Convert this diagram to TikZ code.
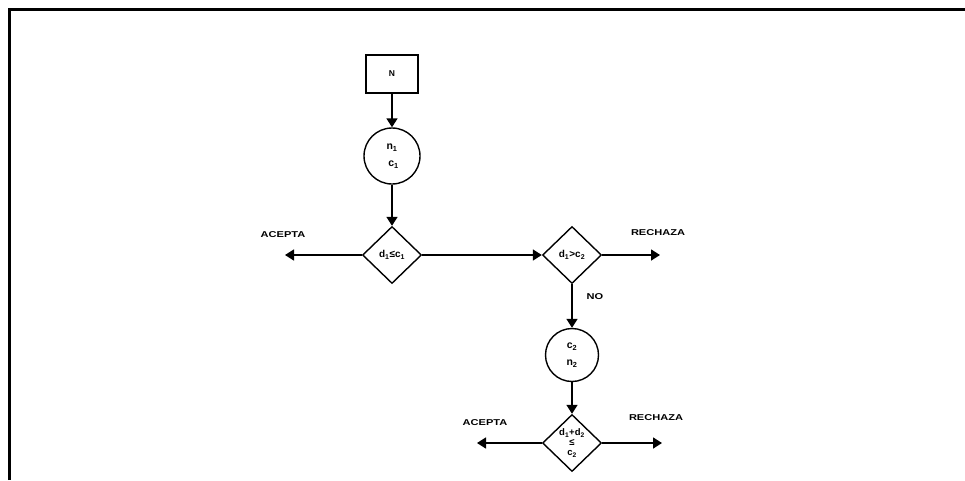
\documentclass[tikz,border=0pt]{standalone}
\usepackage{fontspec}
\setmainfont{Liberation Sans}
\usetikzlibrary{shapes.geometric,arrows.meta}
\tikzset{
  conn/.style={line width=1.6pt,-{Triangle[length=9pt,width=11pt]}},
  boxnode/.style={draw,line width=1.4pt,minimum width=52pt,minimum height=38pt,inner sep=0pt,font=\fontsize{8.5}{9}\selectfont\bfseries},
  circnode/.style={draw,circle,line width=1.4pt,minimum size=56pt,inner sep=0pt,align=center,font=\fontsize{10.5}{17}\selectfont\bfseries},
  decnode/.style={draw,diamond,line width=1.4pt,minimum width=59pt,minimum height=57pt,inner sep=0pt,align=center,font=\fontsize{10}{10}\selectfont\bfseries},
  lbl/.style={inner sep=0pt,font=\fontsize{8.5}{9}\selectfont\bfseries}
}
\newcommand{\wide}[1]{\scalebox{1.3}[1]{#1}}
\begin{document}
\begin{tikzpicture}[x=1pt,y=-1pt]
\useasboundingbox (0,0) rectangle (965,480);
\fill[white] (0,0) rectangle (965,480);
\draw[line width=3pt] (9,480) -- (9,9.5) -- (965,9.5);

\node[boxnode] (N) at (392,74) {N};
\node[circnode] (c1) at (392,156) {n\textsubscript{1}\\\hspace*{3pt}c\textsubscript{1}};
\node[decnode] (d1) at (392,255) {d\textsubscript{1}≤c\textsubscript{1}};
\node[decnode] (d2) at (572,255) {d\textsubscript{1}>c\textsubscript{2}};
\node[circnode,minimum size=53pt] (c2) at (572,355) {c\textsubscript{2}\\n\textsubscript{2}};
\node[decnode,font=\fontsize{9.5}{10}\selectfont\bfseries] (d3) at (572,443) {d\textsubscript{1}+d\textsubscript{2}\\≤\\c\textsubscript{2}};

\coordinate (a1) at (285,255);
\coordinate (r1) at (660,255);
\coordinate (a2) at (477,443);
\coordinate (r2) at (662,443);

\node[lbl] (ta1) at (283,235) {\wide{ACEPTA}};
\node[lbl] (tr1) at (658,233) {\wide{RECHAZA}};
\node[lbl] (tno) at (595,297) {\wide{NO}};
\node[lbl] (ta2) at (485,423) {\wide{ACEPTA}};
\node[lbl] (tr2) at (656,418) {\wide{RECHAZA}};

\draw[conn] (N) -- (c1);
\draw[conn] (c1) -- (d1);
\draw[conn] (d1.west) -- (a1);
\draw[conn] (d1.east) -- (d2.west);
\draw[conn] (d2.east) -- (r1);
\draw[conn] (d2.south) -- (c2);
\draw[conn] (c2) -- (d3);
\draw[conn] (d3.west) -- (a2);
\draw[conn] (d3.east) -- (r2);
\end{tikzpicture}
\end{document}
